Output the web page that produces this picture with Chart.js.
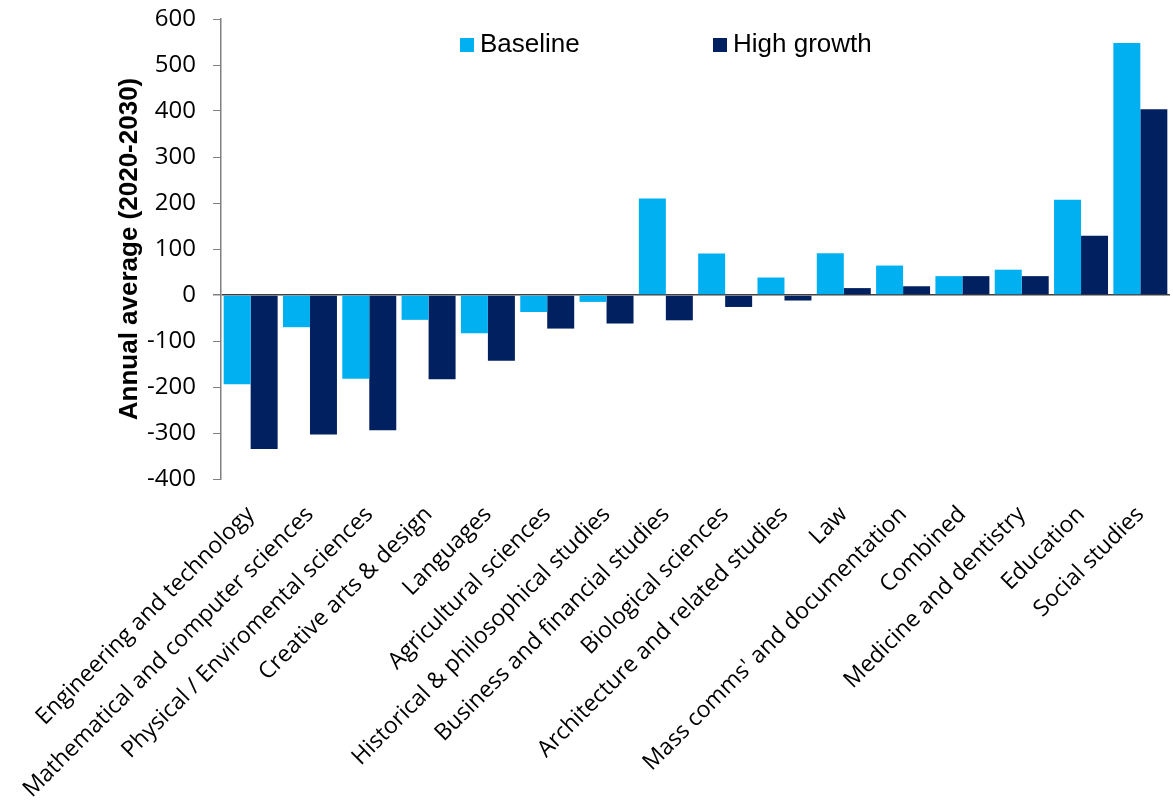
<!DOCTYPE html>
<html>
<head>
<meta charset="utf-8">
<script src="https://cdn.jsdelivr.net/npm/chart.js@4.4.1/dist/chart.umd.min.js"></script>
<style>
  html, body { margin: 0; padding: 0; background: #fff; }
  #wrap { position: relative; width: 1173px; height: 802px; }
</style>
</head>
<body>
<div id="wrap"><canvas id="grafico"></canvas></div>
<script>
const categorias = [
    'Engineering and technology', 'Mathematical and computer sciences', 'Physical / Enviromental sciences',
    'Creative arts & design', 'Languages', 'Agricultural sciences', 'Historical & philosophical studies',
    'Business and financial studies', 'Biological sciences', 'Architecture and related studies', 'Law',
    "Mass comms' and documentation", 'Combined', 'Medicine and dentistry', 'Education', 'Social studies'
];
const baseline = [-194, -70, -182, -54, -83, -37, -15, 210, 90, 38, 91, 64, 41, 55, 207, 548];
const highGrowth = [-335, -303, -294, -183, -143, -73, -62, -55, -26, -12, 15, 19, 41, 41, 129, 404];
const yTicks = { min: -400, max: 600, step: 100 };

// leyenda propia dentro del area del grafico
const leyendaPlugin = {
    id: 'leyendaPlugin',
    afterDraw(chart, args, opts) {
        const ctx = chart.ctx;
        ctx.save();
        ctx.font = opts.font;
        ctx.textBaseline = 'middle';
        ctx.textAlign = 'left';
        chart.data.datasets.forEach((ds, i) => {
            const x = opts.xs[i];
            ctx.fillStyle = ds.backgroundColor;
            ctx.fillRect(x, opts.y - opts.box / 2, opts.box, opts.box);
            ctx.fillStyle = '#000';
            ctx.fillText(ds.label, x + opts.box + opts.gap, opts.y);
        });
        ctx.restore();
    }
};

new Chart(document.getElementById('grafico').getContext('2d'), {
    type: 'bar',
    data: {
        labels: categorias,
        datasets: [
            { label: 'Baseline', data: baseline, backgroundColor: '#00B0F0' },
            { label: 'High growth', data: highGrowth, backgroundColor: '#002060' }
        ]
    },
    options: {
        responsive: true,
        maintainAspectRatio: false,
        animation: false,
        barPercentage: 1,
        categoryPercentage: 0.91,
        layout: { padding: { left: 0, right: 3, top: 19, bottom: 0 } },
        plugins: {
            legend: { display: false },
            tooltip: { enabled: false },
            leyendaPlugin: { font: '26px "Liberation Sans", Arial, sans-serif', xs: [460, 713], y: 45, box: 14, gap: 6 }
        },
        scales: {
            x: {
                grid: { display: false },
                border: { display: false },
                ticks: {
                    autoSkip: false, maxRotation: 45, minRotation: 45, padding: 14,
                    color: '#000', font: { family: '"Open Sans", sans-serif', size: 23 }
                },
                afterFit: s => { s.height = 323; s.paddingLeft = 0; s.paddingRight = 0; }
            },
            y: {
                min: yTicks.min,
                max: yTicks.max,
                ticks: { stepSize: yTicks.step, color: '#000', padding: 17, font: { family: '"Open Sans", sans-serif', size: 24 } },
                grid: {
                    color: c => c.tick && c.tick.value === 0 ? '#404040' : 'rgba(0,0,0,0)',
                    lineWidth: c => c.tick && c.tick.value === 0 ? 1.5 : 1,
                    tickColor: '#808080', tickLength: 8
                },
                border: { color: '#808080', width: 1.5 },
                title: {
                    display: true, text: 'Annual average (2020-2030)', color: '#000',
                    font: { family: '"Liberation Sans", Arial, sans-serif', size: 26, weight: 'bold' },
                    padding: { top: 114, bottom: 0 }
                },
                afterFit: s => { s.width = 221; s.paddingTop = 0; s.paddingBottom = 0; }
            }
        }
    },
    plugins: [leyendaPlugin]
});
</script>
</body>
</html>
